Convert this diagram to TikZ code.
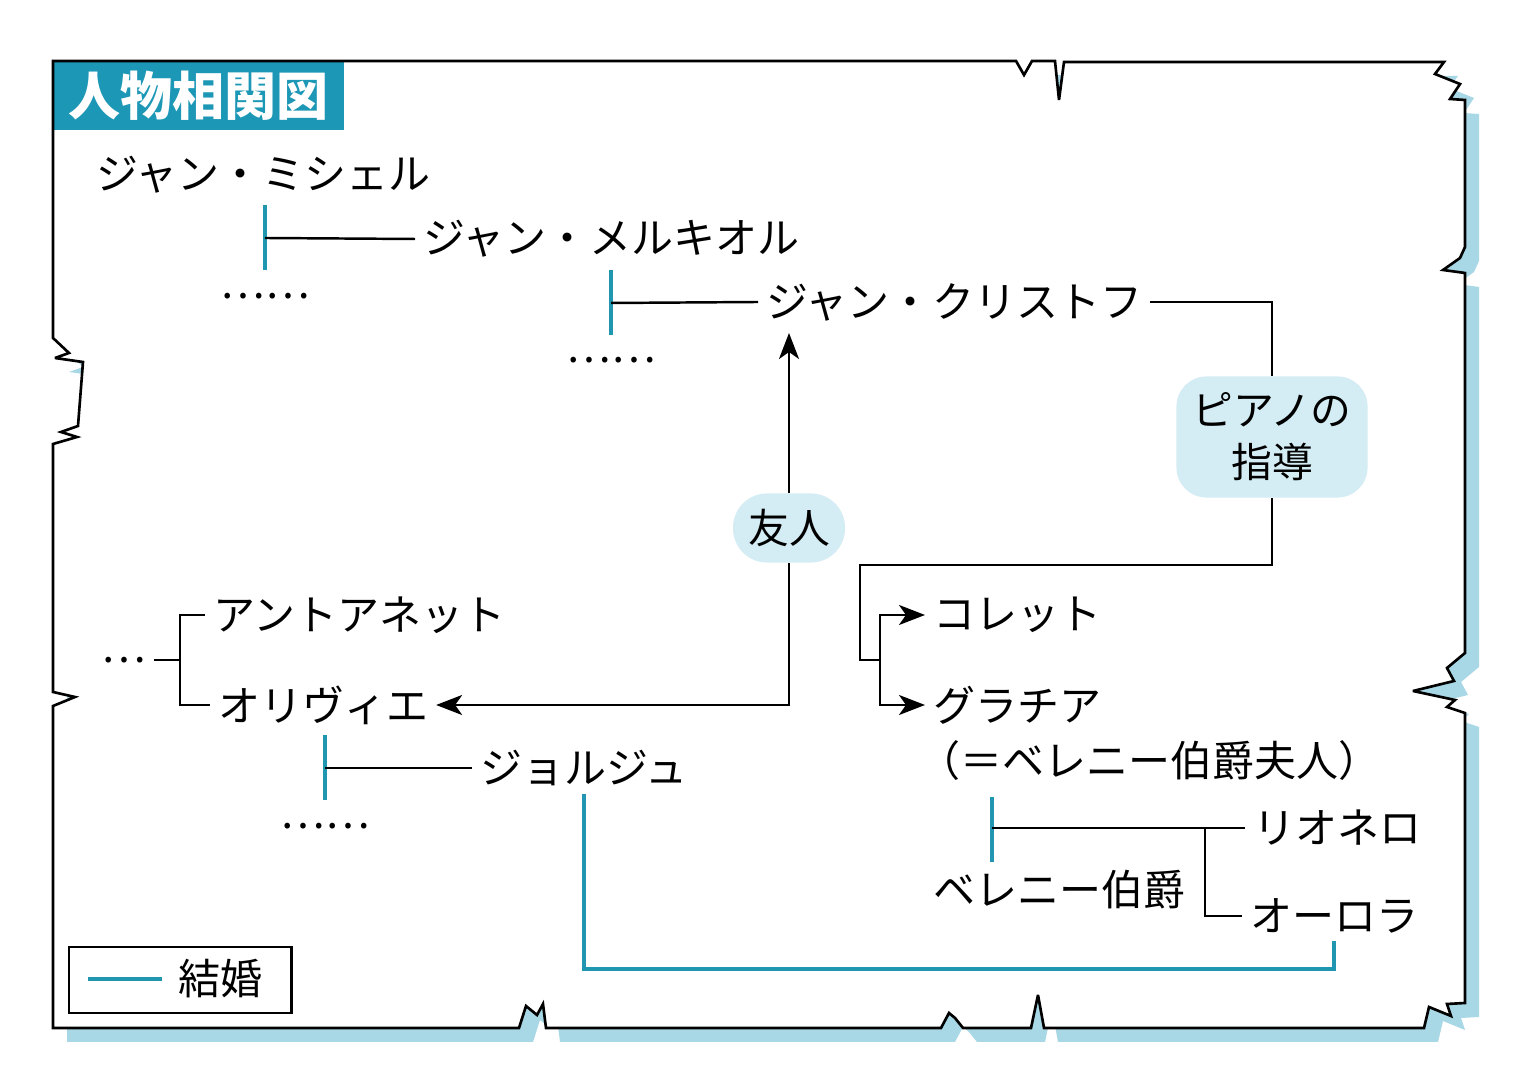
\documentclass[tikz,border=0pt]{standalone}
\usepackage{fontspec}
\newfontfamily\cjk{Noto Sans CJK JP}
\usetikzlibrary{arrows.meta}
\definecolor{titleteal}{RGB}{28,151,181}
\definecolor{wedteal}{RGB}{32,150,176}
\definecolor{shadowblue}{RGB}{168,215,229}
\definecolor{bubbleblue}{RGB}{212,236,243}
\newcommand{\frameoutline}{(53,61) -- (1016,61) -- (1024,75) -- (1032,61) -- (1055,61) -- (1059,100) -- (1064,62)
  -- (1444,62) -- (1435,74) -- (1460,84) -- (1450,99) -- (1465,100) -- (1465,247) -- (1460,258) -- (1443,270) -- (1465,273)
  -- (1465,653) -- (1447,668) -- (1454,681) -- (1413,691) -- (1455,700) -- (1447,707) -- (1465,713)
  -- (1465,1003) -- (1447,1004) -- (1451,1016) -- (1429,1007) -- (1424,1028)
  -- (1044,1028) -- (1038,995) -- (1031,1028) -- (963,1028) -- (955,1018) -- (949,1013) -- (941,1028)
  -- (546,1028) -- (543,1004) -- (537,1015) -- (526,1006) -- (519,1028) -- (53,1028)
  -- (53,706) -- (75,697) -- (53,692) -- (53,444) -- (77,437) -- (61,432) -- (78,426) -- (83,362)
  -- (55,358) -- (69,353) -- (53,338) -- cycle}
\tikzset{
  person/.style={anchor=west, inner sep=0pt, outer sep=0.08cm, font=\cjk\fontsize{11.95}{14}\selectfont},
  dotsnode/.style={person, anchor=center},
  bubble/.style={fill=bubbleblue, inner sep=0pt, align=center, font=\cjk\fontsize{11.6}{14.8}\selectfont},
  link/.style={black, line width=0.7pt},
  wed/.style={wedteal, line width=1.1pt},
  tip/.style={-{Stealth[length=2.6mm, width=2mm, inset=0.7mm]}}
}
\begin{document}
\begin{tikzpicture}[x=0.01cm, y=-0.01cm]
    \useasboundingbox (0,0) rectangle (1536,1089);

    % frame with shadow
    \fill[shadowblue, shift={(14,14)}] \frameoutline;
    \fill[white] \frameoutline;
    \node[anchor=north west, minimum width=2.9cm, minimum height=0.68cm, inner sep=0pt,
          fill=titleteal, text=white, font=\cjk\bfseries\fontsize{14.8}{16}\selectfont] (title) at (53,61) {人物相関図};
    \draw[black, line width=0.75pt, miter limit=4] \frameoutline;

    % people
    \node[person] (jmichel) at (88,175) {ジャン・ミシェル};
    \node[person] (jmelchior) at (415,239) {ジャン・メルキオル};
    \node[person] (jchristophe) at (758,302) {ジャン・クリストフ};
    \node[dotsnode] (dotsa) at (265,296) {……};
    \node[dotsnode] (dotsb) at (611,360) {……};
    \node[person] (antoinette) at (205,615) {アントアネット};
    \node[dotsnode] (dotsc) at (124,660) {…};
    \node[person] (olivier) at (210,705) {オリヴィエ};
    \node[person] (georges) at (472,768) {ジョルジュ};
    \node[dotsnode] (dotsd) at (325,826) {……};
    \node[person] (colette) at (925,615) {コレット};
    \node[person] (grazia) at (925,705) {グラチア};
    \node[person] (graziaalt) at (910,761) {（＝ベレニー伯爵夫人）};
    \node[person] (leonello) at (1245,828) {リオネロ};
    \node[person] (berenyi) at (925,890) {ベレニー伯爵};
    \node[person] (aurora) at (1242,916) {オーロラ};

    % relations
    \node[bubble, minimum width=1.91cm, minimum height=1.21cm, rounded corners=0.3cm] (piano) at (1272,437) {ピアノの\\指導};
    \node[bubble, minimum width=1.12cm, minimum height=0.69cm, rounded corners=0.34cm] (friend) at (789,528) {友人};

    % marriages and children
    \coordinate (wa) at (265,238);
    \coordinate (wb) at (611,303);
    \coordinate (wc) at (325,768);
    \coordinate (wd) at (992,828);
    \draw[wed] (265,205) -- (265,270);
    \draw[wed] (611,270) -- (611,335);
    \draw[wed] (325,735) -- (325,800);
    \draw[wed] (992,797) -- (992,862);
    \draw[link] (wa) -- (jmelchior.west);
    \draw[link] (wb) -- (jchristophe.west);
    \draw[link] (wc) -- (georges.west);
    \draw[link] (wd) -- (leonello.west);
    \coordinate (forkb) at (1205,828);
    \draw[link] (forkb) |- (aurora.west);
    \draw[wed] (georges.south) |- (aurora.south |- 0,969) -- (aurora.south);

    % siblings
    \coordinate (forka) at (180,660);
    \draw[link] (dotsc.east) -- (forka);
    \draw[link] (antoinette.west) -| (forka) |- (olivier.west);

    % piano lessons
    \coordinate (split) at (880,660);
    \draw[link] (jchristophe.east) -| (piano.north);
    \draw[link] (piano.south) |- (860,565) |- (split);
    \draw[link, tip] (split) |- (colette.west);
    \draw[link, tip] (split) |- (grazia.west);

    % friendship
    \coordinate (up) at (789,333);
    \draw[link, tip] (friend.north) -- (up);
    \draw[link, tip] (friend.south) |- (olivier.east);

    % legend
    \node[draw, line width=0.7pt, anchor=north west, minimum width=2.22cm, minimum height=0.66cm] (legend) at (68,946) {};
    \draw[wed] (88,979) -- (162,979);
    \node[person] (wedlabel) at (170,979) {結婚};
\end{tikzpicture}
\end{document}
